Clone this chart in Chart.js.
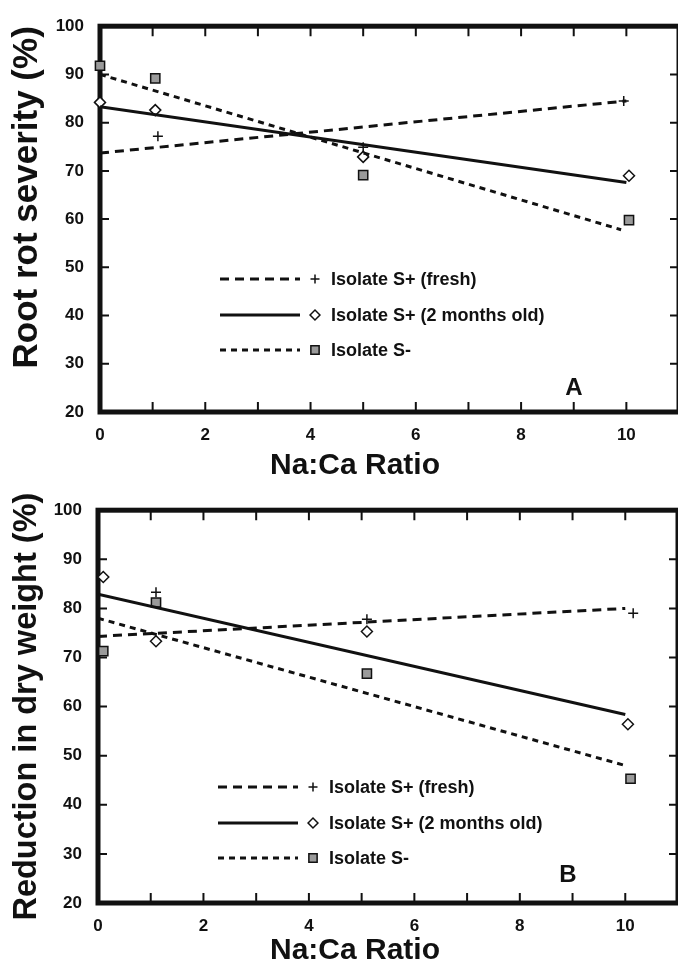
<!DOCTYPE html>
<html>
<head>
<meta charset="utf-8">
<title>Na:Ca Ratio</title>
<script src="https://cdn.jsdelivr.net/npm/chart.js@4.4.1/dist/chart.umd.min.js"></script>
<style>
    html, body { margin: 0; padding: 0; background: #fff; width: 678px; height: 969px; overflow: hidden; }
    .panel { position: absolute; left: 0; }
    #panelA { top: 0; }
    #panelB { top: 484px; }
</style>
</head>
<body>
<div class="panel" id="panelA"><canvas id="chartA" width="692" height="484"></canvas></div>
<div class="panel" id="panelB"><canvas id="chartB" width="691" height="485"></canvas></div>
<script>
// --- values ---
const legendLabels = ['Isolate S+ (fresh)', 'Isolate S+ (2 months old)', 'Isolate S-'];
const xAxisTitle = 'Na:Ca Ratio';

// panel A: root rot severity
const freshXA = [1.1, 5.0, 9.95];
const freshYA = [77.2, 74.9, 84.5];
const oldXA = [0.0, 1.05, 5.0, 10.05];
const oldYA = [84.2, 82.6, 72.9, 69.0];
const sMinusXA = [0.0, 1.05, 5.0, 10.05];
const sMinusYA = [91.8, 89.2, 69.1, 59.8];
const trendXA = [0, 10];
const freshTrendA = [73.7, 84.5];
const oldTrendA = [83.3, 67.6];
const sMinusTrendXA = [0, 9.9];
const sMinusTrendA = [90.0, 57.8];

// panel B: reduction in dry weight
const freshXB = [1.1, 5.1, 10.15];
const freshYB = [83.3, 77.8, 79.0];
const oldXB = [0.1, 1.1, 5.1, 10.05];
const oldYB = [86.4, 73.3, 75.3, 56.4];
const sMinusXB = [0.1, 1.1, 5.1, 10.1];
const sMinusYB = [71.3, 81.2, 66.7, 45.3];
const trendXB = [0, 10];
const freshTrendB = [74.3, 80.0];
const oldTrendB = [82.9, 58.4];
const sMinusTrendB = [78.0, 48.0];

const xMin = 0, xMax = 11;
const yMin = 20, yMax = 100, yStep = 10;

const INK = '#111';
const FONT = '"Liberation Sans", Arial, Helvetica, sans-serif';
Chart.defaults.font.family = FONT;
Chart.defaults.color = INK;

function toPoints(xs, ys) {
    return xs.map((x, i) => ({ x: x, y: ys[i] }));
}

function trendSet(xs, ys, dash) {
    return {
        data: toPoints(xs, ys),
        showLine: true,
        borderColor: INK,
        borderWidth: 3,
        borderDash: dash,
        pointRadius: 0,
        fill: false,
    };
}

function markerSet(xs, ys, style, radius, fillColor) {
    return {
        data: toPoints(xs, ys),
        showLine: false,
        pointStyle: style,
        pointRadius: radius,
        pointBorderWidth: 1.5,
        pointBorderColor: INK,
        pointBackgroundColor: fillColor,
        borderColor: INK,
        backgroundColor: fillColor,
        clip: false,
    };
}

// thick box round the plot with inward ticks on all four sides
const framePlugin = {
    id: 'frame',
    beforeDatasetsDraw(chart) {
        const { ctx, chartArea: a, scales } = chart;
        const x = scales.x, y = scales.y;
        ctx.save();
        ctx.strokeStyle = INK;
        ctx.lineWidth = 2;
        ctx.beginPath();
        x.ticks.forEach(t => {
            if (t.value <= x.min || t.value >= x.max) return;
            const px = x.getPixelForValue(t.value);
            ctx.moveTo(px, a.bottom); ctx.lineTo(px, a.bottom - 10);
            ctx.moveTo(px, a.top); ctx.lineTo(px, a.top + 10);
        });
        y.ticks.forEach(t => {
            if (t.value <= y.min || t.value >= y.max) return;
            const py = y.getPixelForValue(t.value);
            ctx.moveTo(a.left, py); ctx.lineTo(a.left + 9, py);
            ctx.moveTo(a.right, py); ctx.lineTo(a.right - 9, py);
        });
        ctx.stroke();
        ctx.lineWidth = 5;
        ctx.strokeRect(a.left, a.top, a.right - a.left, a.bottom - a.top);
        ctx.restore();
    }
};

// legend inside the plot, panel letter, and the x title under the 0-10 span
const legendPlugin = {
    id: 'sketchLegend',
    afterDatasetsDraw(chart, args, opts) {
        const ctx = chart.ctx;
        const sets = chart.data.datasets;
        ctx.save();
        opts.rows.forEach((rowY, i) => {
            const line = sets[i];
            const mark = sets[i + 3];
            ctx.strokeStyle = INK;
            ctx.lineWidth = line.borderWidth;
            ctx.setLineDash(line.borderDash || []);
            ctx.beginPath();
            ctx.moveTo(opts.lineFrom, rowY);
            ctx.lineTo(opts.lineTo, rowY);
            ctx.stroke();
            ctx.setLineDash([]);
            ctx.fillStyle = mark.pointBackgroundColor;
            ctx.strokeStyle = INK;
            ctx.lineWidth = mark.pointBorderWidth;
            Chart.helpers.drawPoint(ctx, {
                pointStyle: mark.pointStyle,
                radius: mark.pointRadius * 0.9,
                rotation: 0,
                borderWidth: mark.pointBorderWidth,
            }, opts.markerX, rowY);
            ctx.fillStyle = INK;
            ctx.font = 'bold 18px ' + FONT;
            ctx.textAlign = 'left';
            ctx.textBaseline = 'middle';
            ctx.fillText(legendLabels[i], opts.textX, rowY + 1);
        });
        ctx.font = 'bold 24px ' + FONT;
        ctx.textAlign = 'center';
        ctx.textBaseline = 'middle';
        ctx.fillText(opts.panel, opts.panelX, opts.panelY);

        ctx.font = 'bold 30px ' + FONT;
        ctx.fillText(xAxisTitle, opts.titleX, chart.height - 18);
        ctx.restore();
    }
};

function createPanel(canvasId, cfg) {
    const ctx = document.getElementById(canvasId).getContext('2d');
    return new Chart(ctx, {
        type: 'scatter',
        data: {
            datasets: [
                trendSet(cfg.freshTrendX, cfg.freshTrend, [9, 6]),
                trendSet(cfg.oldTrendX, cfg.oldTrend, []),
                trendSet(cfg.sMinusTrendX, cfg.sMinusTrend, [6, 5]),
                markerSet(cfg.freshX, cfg.freshY, 'cross', 5, INK),
                markerSet(cfg.oldX, cfg.oldY, 'rectRot', 5.5, '#fff'),
                markerSet(cfg.sMinusX, cfg.sMinusY, 'rect', 6.5, '#9a9a9a'),
            ],
        },
        options: {
            responsive: false,
            animation: false,
            layout: { padding: { top: cfg.padTop, right: 2, left: 0, bottom: 0 } },
            plugins: {
                legend: { display: false },
                tooltip: { enabled: false },
                sketchLegend: cfg.legend,
            },
            scales: {
                x: {
                    type: 'linear',
                    min: xMin,
                    max: xMax,
                    grid: { display: false, drawTicks: false },
                    border: { display: false },
                    ticks: {
                        stepSize: 1,
                        autoSkip: false,
                        maxRotation: 0,
                        padding: 13,
                        font: { size: 17, weight: 'bold' },
                        callback: v => (v % 2 === 0 && v <= 10) ? String(v) : '',
                    },
                    title: { display: false },
                    afterFit: s => { s.height = cfg.xAxisHeight; },
                },
                y: {
                    min: yMin,
                    max: yMax,
                    grid: { display: false, drawTicks: false },
                    border: { display: false },
                    ticks: {
                        stepSize: yStep,
                        padding: 16,
                        font: { size: 17, weight: 'bold' },
                    },
                    title: {
                        display: true,
                        text: cfg.yTitle,
                        align: cfg.yTitleAlign,
                        padding: 0,
                        font: { size: cfg.yTitleSize, weight: 'bold', lineHeight: '54px' },
                    },
                    afterFit: s => { s.width = cfg.yAxisWidth; },
                },
            },
        },
        plugins: [framePlugin, legendPlugin],
    });
}

document.addEventListener('DOMContentLoaded', () => {
    createPanel('chartA', {
        freshX: freshXA, freshY: freshYA,
        oldX: oldXA, oldY: oldYA,
        sMinusX: sMinusXA, sMinusY: sMinusYA,
        freshTrendX: trendXA, freshTrend: freshTrendA,
        oldTrendX: trendXA, oldTrend: oldTrendA,
        sMinusTrendX: sMinusTrendXA, sMinusTrend: sMinusTrendA,
        yTitle: 'Root rot severity (%)',
        yTitleAlign: 'end',
        yTitleSize: 35,
        padTop: 17,
        yAxisWidth: 100, xAxisHeight: 72,
        legend: { rows: [279, 315, 350], lineFrom: 220, lineTo: 300, markerX: 315, textX: 331,
                  panel: 'A', panelX: 574, panelY: 388, titleX: 355 },
    });

    createPanel('chartB', {
        freshX: freshXB, freshY: freshYB,
        oldX: oldXB, oldY: oldYB,
        sMinusX: sMinusXB, sMinusY: sMinusYB,
        freshTrendX: trendXB, freshTrend: freshTrendB,
        oldTrendX: trendXB, oldTrend: oldTrendB,
        sMinusTrendX: trendXB, sMinusTrend: sMinusTrendB,
        yTitle: 'Reduction in dry weight (%)',
        yTitleAlign: 'center',
        yTitleSize: 32.5,
        padTop: 24,
        yAxisWidth: 98, xAxisHeight: 66,
        legend: { rows: [303, 339, 374], lineFrom: 218, lineTo: 298, markerX: 313, textX: 329,
                  panel: 'B', panelX: 568, panelY: 391, titleX: 355 },
    });
});
</script>
</body>
</html>
